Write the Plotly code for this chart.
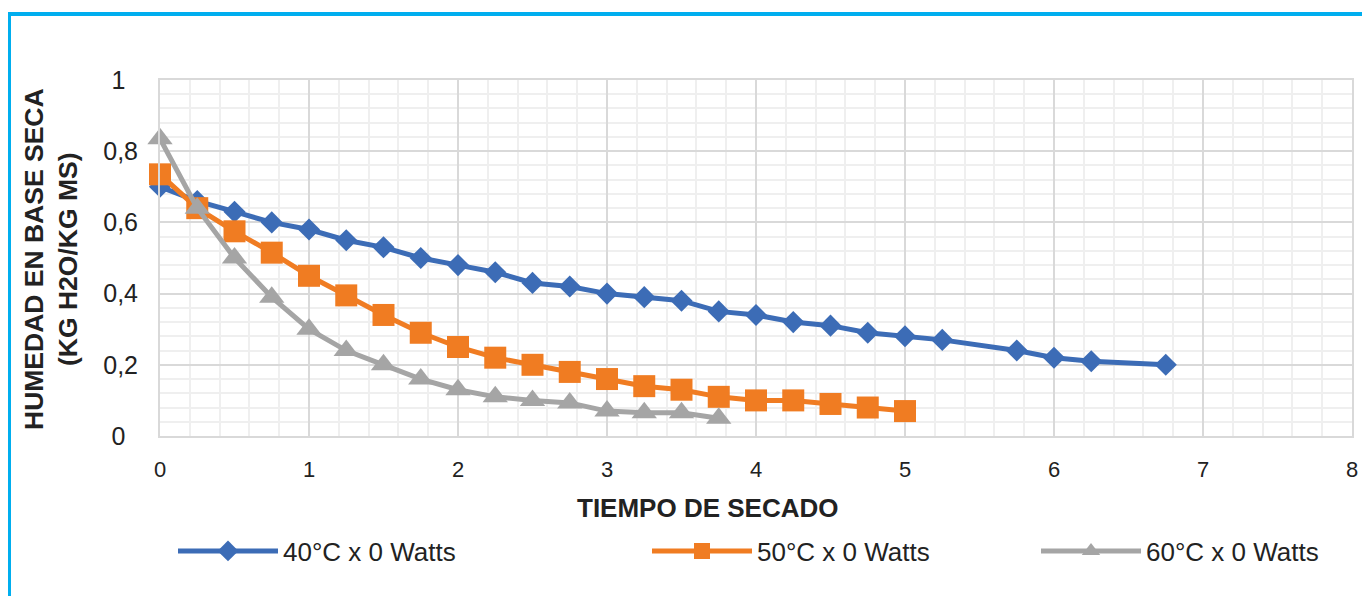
import plotly.graph_objects as go

# ---- data ----
x40 = [0, 0.25, 0.5, 0.75, 1, 1.25, 1.5, 1.75, 2, 2.25, 2.5, 2.75, 3, 3.25, 3.5,
       3.75, 4, 4.25, 4.5, 4.75, 5, 5.25, 5.75, 6, 6.25, 6.75]
y40 = [0.70, 0.66, 0.63, 0.60, 0.58, 0.55, 0.53, 0.50, 0.48, 0.46, 0.43, 0.42, 0.40, 0.39, 0.38,
       0.35, 0.34, 0.32, 0.31, 0.29, 0.28, 0.27, 0.24, 0.22, 0.21, 0.20]

x50 = [0, 0.25, 0.5, 0.75, 1, 1.25, 1.5, 1.75, 2, 2.25, 2.5, 2.75, 3, 3.25, 3.5,
       3.75, 4, 4.25, 4.5, 4.75, 5]
y50 = [0.735, 0.64, 0.575, 0.515, 0.45, 0.395, 0.34, 0.29, 0.25, 0.22, 0.20, 0.18, 0.16, 0.14, 0.13,
       0.11, 0.10, 0.10, 0.09, 0.08, 0.07]

x60 = [0, 0.25, 0.5, 0.75, 1, 1.25, 1.5, 1.75, 2, 2.25, 2.5, 2.75, 3, 3.25, 3.5, 3.75]
y60 = [0.835, 0.64, 0.50, 0.39, 0.30, 0.24, 0.20, 0.16, 0.13, 0.11, 0.10, 0.093, 0.07, 0.065, 0.065, 0.05]

series_names = ["40°C x 0 Watts", "50°C x 0 Watts", "60°C x 0 Watts"]
x_ticks = [0, 1, 2, 3, 4, 5, 6, 7, 8]
y_ticks = [0, 0.2, 0.4, 0.6, 0.8, 1]
y_tick_labels = ["0\u2002", "0,2", "0,4", "0,6", "0,8", "1\u2002"]
x_title = "TIEMPO DE SECADO"
y_title = "HUMEDAD EN BASE SECA<br>(KG H2O/KG MS)"

BLUE = "#3C6CB6"
ORANGE = "#F07C22"
GRAY = "#A5A5A5"
FONT = "Liberation Sans, Arial, sans-serif"

fig = go.Figure()
fig.add_trace(go.Scatter(x=x40, y=y40, name=series_names[0], mode="lines+markers",
                         line=dict(color=BLUE, width=5),
                         marker=dict(symbol="diamond", size=17, color=BLUE),
                         cliponaxis=False, legend="legend"))
fig.add_trace(go.Scatter(x=x50, y=y50, name=series_names[1], mode="lines+markers",
                         line=dict(color=ORANGE, width=5),
                         marker=dict(symbol="square", size=22, color=ORANGE),
                         cliponaxis=False, legend="legend2"))
fig.add_trace(go.Scatter(x=x60, y=y60, name=series_names[2], mode="lines+markers",
                         line=dict(color=GRAY, width=5),
                         marker=dict(symbol="triangle-up", size=22, color=GRAY),
                         cliponaxis=False, legend="legend3"))

OFF = 8  # page body margin
W, H = 1370 - OFF, 596 - OFF
# plot area in page pixels: left 160, right 1352, top 80, bottom 436
L, R, T, B = 160 - OFF, 18, 80 - OFF, 160
pw, ph = W - L - R, H - T - B

def px2x(px):
    return (px - 160) / pw

def px2y(py):
    return (436 - py) / ph

leg_common = dict(orientation="h", xanchor="left", yanchor="middle",
                  font=dict(family=FONT, size=26, color="#222222"),
                  bgcolor="rgba(0,0,0,0)", itemwidth=100)

fig.update_layout(
    width=W, height=H,
    margin=dict(l=L, r=R, t=T, b=B),
    paper_bgcolor="white", plot_bgcolor="white",
    font=dict(family=FONT, color="#222222"),
    showlegend=True,
    legend=dict(x=px2x(173), y=px2y(551), **leg_common),
    legend2=dict(x=px2x(647), y=px2y(551), **leg_common),
    legend3=dict(x=px2x(1036), y=px2y(551), **leg_common),
    xaxis=dict(range=[0, 8], tickvals=x_ticks, showgrid=True, gridcolor="#D9D9D9", gridwidth=2,
               zeroline=False, showline=True, linecolor="#D9D9D9", linewidth=2, mirror=True,
               tickfont=dict(size=22, color="#222222"), ticks="", ticklabelstandoff=13,
               minor=dict(dtick=0.2, showgrid=True, gridcolor="#EFEFEF", gridwidth=2)),
    yaxis=dict(range=[0, 1], tickvals=y_ticks, ticktext=y_tick_labels, showgrid=True,
               gridcolor="#D9D9D9", gridwidth=2,
               zeroline=False, showline=True, linecolor="#D9D9D9", linewidth=2, mirror=True,
               tickfont=dict(size=25, color="#222222"), ticks="", ticklabelstandoff=15,
               minor=dict(dtick=0.04, showgrid=True, gridcolor="#EFEFEF", gridwidth=2)),
    annotations=[
        dict(text="<b>" + x_title + "</b>", xref="paper", yref="paper",
             x=px2x(707), y=px2y(508), xanchor="center", yanchor="middle", showarrow=False,
             font=dict(family=FONT, size=26, color="#222222")),
        dict(text="<b>" + y_title + "</b>", xref="paper", yref="paper",
             x=px2x(51), y=px2y(259), xanchor="center", yanchor="middle", showarrow=False,
             textangle=-90, font=dict(family=FONT, size=26.5, color="#222222")),
    ],
    shapes=[
        dict(type="rect", xref="paper", yref="paper",
             x0=px2x(9), x1=px2x(1364), y0=px2y(640), y1=px2y(14),
             line=dict(color="#00AEEF", width=4), fillcolor="rgba(0,0,0,0)", layer="above"),
    ],
)

fig.write_html("out.html")
